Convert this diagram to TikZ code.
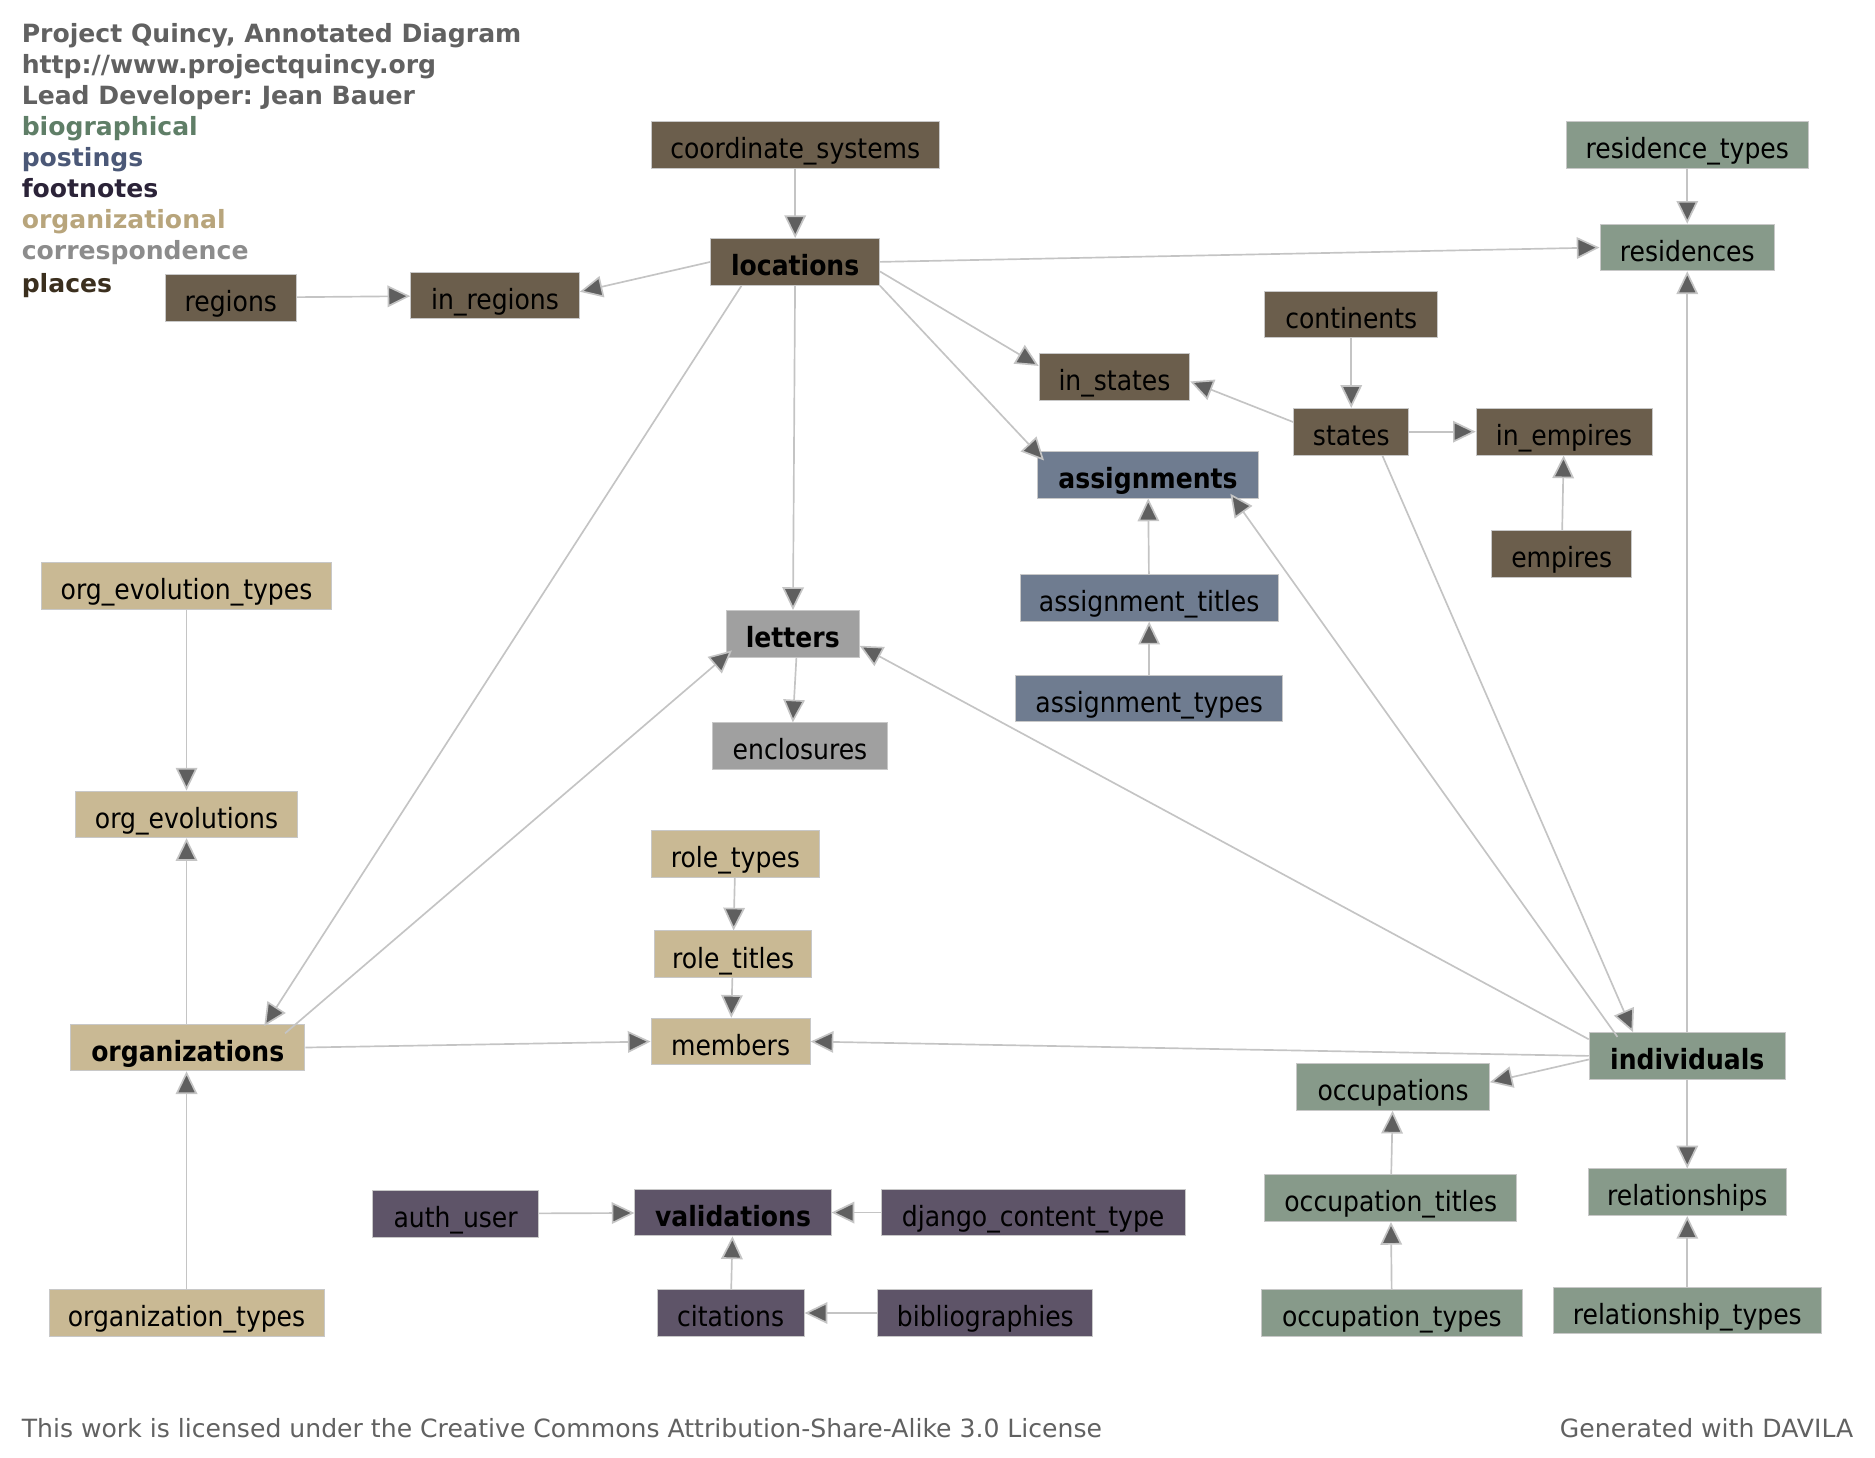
\documentclass[tikz,border=0pt]{standalone}
\usepackage{fontspec}
\setmainfont{DejaVu Sans}
\newfontfamily\tblfam{DejaVu Sans Condensed}
\usepackage{tikz}
\usetikzlibrary{arrows.meta,calc}
\definecolor{places}{HTML}{6B5E4C}
\definecolor{bio}{HTML}{879A8A}
\definecolor{post}{HTML}{6F7C90}
\definecolor{foot}{HTML}{5E5468}
\definecolor{orgn}{HTML}{C9B994}
\definecolor{corr}{HTML}{A0A0A0}
\definecolor{boxedge}{HTML}{C8C8C8}
\definecolor{edgegray}{HTML}{C4C4C4}
\definecolor{tipgray}{HTML}{5F5F5F}
\definecolor{headgray}{HTML}{616161}
\definecolor{biotext}{HTML}{5F7E67}
\definecolor{posttext}{HTML}{4B5877}
\definecolor{foottext}{HTML}{2B2338}
\definecolor{orgtext}{HTML}{B8A57C}
\definecolor{corrtext}{HTML}{8C8C8C}
\definecolor{placetext}{HTML}{3B2F1E}
\newcommand\tblfont{\tblfam\fontsize{23.3}{27}\selectfont}
\newcommand\notefont{\fontsize{21}{25}\selectfont}
\tikzset{
  tbl/.style={draw=boxedge, line width=0.8pt, fill=#1, minimum height=39pt, inner xsep=4pt,
    text height=24pt, text depth=1pt, font=\tblfont},
  tbl/.default=bio,
  hub/.style={tbl=#1, font=\tblfont\bfseries},
  note/.style={anchor=west, inner sep=0pt, text height=15.3pt, text depth=4.5pt, font=\notefont},
  key/.style={note, font=\notefont\bfseries, text=#1},
  fk/.style={draw=edgegray, line width=1.4pt, -{Triangle[length=19pt, width=18pt, fill=tipgray]}},
}

\begin{document}
\frenchspacing
\begin{tikzpicture}[x=1pt, y=-1pt]
  \useasboundingbox (0,0) rectangle (1568,1219);
  % legend
  \node[key=headgray] (title) at (18,30) {Project Quincy, Annotated Diagram};
  \node[key=headgray] (url) at (18,56) {http://www.projectquincy.org};
  \node[key=headgray] (lead) at (18,82) {Lead Developer: Jean Bauer};
  \node[key=biotext] (kbio) at (18,108) {biographical};
  \node[key=posttext] (kpost) at (18,134) {postings};
  \node[key=foottext] (kfoot) at (18,160) {footnotes};
  \node[key=orgtext] (korg) at (18,186) {organizational};
  \node[key=corrtext] (kcorr) at (18,212) {correspondence};
  \node[key=placetext] (kplace) at (18,239) {places};

  % places
  \node[tbl=places, minimum width=241pt] (coordinate_systems) at (665,121) {coordinate\_systems};
  \node[hub=places, minimum width=141pt] (locations) at (665,219) {locations};
  \node[tbl=places, minimum width=110pt] (regions) at (193,249) {regions};
  \node[tbl=places, minimum width=141pt] (in_regions) at (414,247) {in\_regions};
  \node[tbl=places, minimum width=145pt] (continents) at (1130,263) {continents};
  \node[tbl=places, minimum width=126pt] (in_states) at (932,315) {in\_states};
  \node[tbl=places, minimum width=96pt] (states) at (1130,361) {states};
  \node[tbl=places, minimum width=147pt] (in_empires) at (1308,361) {in\_empires};
  \node[tbl=places, minimum width=117pt] (empires) at (1306,463) {empires};

  % biographical
  \node[tbl=bio, minimum width=202pt] (residence_types) at (1411,121) {residence\_types};
  \node[tbl=bio, minimum width=146pt] (residences) at (1411,207) {residences};
  \node[hub=bio, minimum width=164pt] (individuals) at (1411,883) {individuals};
  \node[tbl=bio, minimum width=161pt] (occupations) at (1165,909) {occupations};
  \node[tbl=bio, minimum width=166pt] (relationships) at (1411,997) {relationships};
  \node[tbl=bio, minimum width=211pt] (occupation_titles) at (1163,1002) {occupation\_titles};
  \node[tbl=bio, minimum width=218pt] (occupation_types) at (1164,1098) {occupation\_types};
  \node[tbl=bio, minimum width=224pt] (relationship_types) at (1411,1096) {relationship\_types};

  % postings
  \node[hub=post, minimum width=185pt] (assignments) at (960,397) {assignments};
  \node[tbl=post, minimum width=216pt] (assignment_titles) at (961,500) {assignment\_titles};
  \node[tbl=post, minimum width=223pt] (assignment_types) at (961,584) {assignment\_types};

  % correspondence
  \node[hub=corr, minimum width=111pt] (letters) at (663,530) {letters};
  \node[tbl=corr, minimum width=146pt] (enclosures) at (669,624) {enclosures};

  % organizational
  \node[tbl=orgn, minimum width=243pt] (org_evolution_types) at (156,490) {org\_evolution\_types};
  \node[tbl=orgn, minimum width=185pt] (org_evolutions) at (156,681) {org\_evolutions};
  \node[hub=orgn, minimum width=196pt] (organizations) at (157,876) {organizations};
  \node[tbl=orgn, minimum width=230pt] (organization_types) at (156,1098) {organization\_types};
  \node[tbl=orgn, minimum width=140pt] (role_types) at (615,714) {role\_types};
  \node[tbl=orgn, minimum width=132pt] (role_titles) at (613,798) {role\_titles};
  \node[tbl=orgn, minimum width=133pt] (members) at (611,871) {members};

  % footnotes
  \node[tbl=foot, minimum width=139pt] (auth_user) at (381,1015) {auth\_user};
  \node[hub=foot, minimum width=164pt] (validations) at (613,1014) {validations};
  \node[tbl=foot, minimum width=254pt] (django_content_type) at (864,1014) {django\_content\_type};
  \node[tbl=foot, minimum width=123pt] (citations) at (611,1098) {citations};
  \node[tbl=foot, minimum width=180pt] (bibliographies) at (824,1098) {bibliographies};

  % foreign keys
  \draw[fk] (coordinate_systems) -- (locations);
  \draw[fk] (residence_types) -- (residences);
  \draw[fk] (locations.east) -- (residences.west);
  \draw[fk] (locations.west) -- ($(in_regions.east)+(0,-3)$);
  \draw[fk] (regions) -- (in_regions);
  \draw[fk] ($(locations.east)+(0,8)$) -- ($(in_states.west)+(0,-9)$);
  \draw[fk] (locations.south east) -- ($(assignments.north west)+(6,8)$);
  \draw[fk] (locations) -- (letters);
  \draw[fk] ($(locations.south west)+(26,0)$) -- ($(organizations.north)+(64,2)$);
  \draw[fk] (continents) -- (states);
  \draw[fk] ($(states.west)+(0,-8)$) -- ($(in_states.east)+(0,4)$);
  \draw[fk] (states) -- (in_empires);
  \draw[fk] (empires) -- (in_empires);
  \draw[fk] ($(states.south)+(26,0)$) -- ($(individuals.north west)+(37,0)$);
  \draw[fk] (assignment_titles) -- (assignments);
  \draw[fk] (assignment_types) -- (assignment_titles);
  \draw[fk] ($(individuals.north west)+(24,4)$) -- ($(assignments.south east)+(-24,-4)$);
  \draw[fk] ($(individuals.north west)+(0,6)$) -- ($(letters.east)+(0,10)$);
  \draw[fk] ($(letters.south)+(3,0)$) -- ($(enclosures.north)+(-6,0)$);
  \draw[fk] ($(organizations.north east)+(-17,8)$) -- ($(letters.south west)+(5,-6)$);
  \draw[fk] (org_evolution_types) -- (org_evolutions);
  \draw[fk] (organizations.north -| org_evolutions) -- (org_evolutions);
  \draw[fk] (organization_types) -- (organization_types |- organizations.south);
  \draw[fk] (organizations.east) -- (members.west);
  \draw[fk] (individuals.west) -- (members.east);
  \draw[fk] (role_types) -- (role_titles);
  \draw[fk] (role_titles) -- (members);
  \draw[fk] ($(individuals.west)+(0,3)$) -- ($(occupations.east)+(0,-4)$);
  \draw[fk] (individuals) -- (residences);
  \draw[fk] (individuals) -- (relationships);
  \draw[fk] (relationship_types) -- (relationships);
  \draw[fk] (occupation_titles) -- (occupations);
  \draw[fk] (occupation_types) -- (occupation_titles);
  \draw[fk] (auth_user) -- (validations);
  \draw[fk] (django_content_type) -- (validations);
  \draw[fk] (citations) -- (validations);
  \draw[fk] (bibliographies) -- (citations);

  % footer
  \node[note, text=headgray] (licence) at (18,1197) {This work is licensed under the Creative Commons Attribution-Share-Alike 3.0 License};
  \node[note, anchor=east, text=headgray] (davila) at (1550,1197) {Generated with DAVILA};
\end{tikzpicture}
\end{document}
